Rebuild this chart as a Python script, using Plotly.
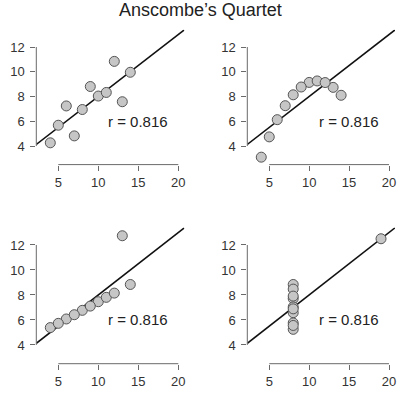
import numpy as np
import plotly.graph_objects as go

# Anscombe's quartet data
x123 = [10, 8, 13, 9, 11, 14, 6, 4, 12, 7, 5]
y1 = [8.04, 6.95, 7.58, 8.81, 8.33, 9.96, 7.24, 4.26, 10.84, 4.82, 5.68]
y2 = [9.14, 8.14, 8.74, 8.77, 9.26, 8.10, 6.13, 3.10, 9.13, 7.26, 4.74]
y3 = [7.46, 6.77, 12.74, 7.11, 7.81, 8.84, 6.08, 5.39, 8.15, 6.42, 5.73]
x4 = [8, 8, 8, 8, 8, 8, 8, 19, 8, 8, 8]
y4 = [6.58, 5.76, 7.71, 8.84, 8.47, 7.04, 5.25, 12.50, 5.56, 7.91, 6.89]
r_values = [0.816, 0.816, 0.816, 0.816]

x_ticks = [5, 10, 15, 20]
y_ticks = [4, 6, 8, 10, 12]
title_text = "Anscombe’s Quartet"

datasets = [(x123, y1), (x123, y2), (x123, y3), (x4, y4)]

W, H = 410, 397
XR = [2.25, 20.75]
YR = [2.5, 13.4]
# panel pixel boxes: (left, right, top, bottom)
boxes = [
    (36.3, 184.3, 29.7, 164.6),
    (247.3, 395.0, 29.7, 164.6),
    (36.3, 184.3, 227.5, 363.7),
    (247.3, 395.0, 227.5, 363.7),
]

FONT = "Liberation Sans, Arial, Helvetica, sans-serif"
AXC = "#6a6a6a"
TXC = "#333333"

fig = go.Figure()
layout = dict(
    width=W, height=H,
    margin=dict(l=0, r=0, t=0, b=0),
    paper_bgcolor="white", plot_bgcolor="white",
    showlegend=False,
    font=dict(family=FONT, color=TXC, size=13),
)
shapes = []
annotations = []

for i, ((xs, ys), (l, r, t, b)) in enumerate(zip(datasets, boxes)):
    k = "" if i == 0 else str(i + 1)
    xa, ya = "x" + k, "y" + k
    layout["xaxis" + k] = dict(
        domain=[l / W, r / W], range=XR, anchor=ya,
        tickvals=x_ticks, ticks="outside", ticklen=5, tickcolor=AXC,
        showgrid=False, zeroline=False, showline=False,
        tickfont=dict(size=13, color=TXC), ticklabelstandoff=1,
    )
    layout["yaxis" + k] = dict(
        domain=[1 - b / H, 1 - t / H], range=YR, anchor=xa,
        tickvals=y_ticks, ticks="outside", ticklen=5, tickcolor=AXC,
        showgrid=False, zeroline=False, showline=False,
        tickfont=dict(size=13, color=TXC), ticklabelstandoff=3,
    )
    # axis lines spanning first to last tick (R style)
    shapes.append(dict(type="line", xref=xa, yref=ya + " domain",
                       x0=x_ticks[0], x1=x_ticks[-1], y0=0, y1=0,
                       line=dict(color=AXC, width=1)))
    shapes.append(dict(type="line", xref=xa + " domain", yref=ya,
                       x0=0, x1=0, y0=y_ticks[0], y1=y_ticks[-1],
                       line=dict(color=AXC, width=1)))
    # regression line
    slope, intercept = np.polyfit(xs, ys, 1)
    lx = np.array(XR)
    fig.add_trace(go.Scatter(x=lx, y=intercept + slope * lx, mode="lines",
                             line=dict(color="#111111", width=1.6),
                             xaxis=xa, yaxis=ya, hoverinfo="skip"))
    fig.add_trace(go.Scatter(x=xs, y=ys, mode="markers",
                             marker=dict(size=10, color="#c6c6c6",
                                         line=dict(color="#555555", width=1)),
                             xaxis=xa, yaxis=ya, cliponaxis=False))
    annotations.append(dict(x=15, y=6, xref=xa, yref=ya,
                            text=f"r = {r_values[i]:.3f}", showarrow=False,
                            font=dict(size=15, color="#222222")))

annotations.append(dict(x=200 / W, y=1 - 10 / H, xref="paper", yref="paper",
                        text=title_text, showarrow=False,
                        font=dict(size=18, color="#222222"),
                        xanchor="center", yanchor="middle"))
layout["shapes"] = shapes
layout["annotations"] = annotations
fig.update_layout(**layout)
fig.write_html("out.html",
               config={"displayModeBar": False},
               post_script="document.body.style.margin='0';document.body.style.overflow='hidden';")
